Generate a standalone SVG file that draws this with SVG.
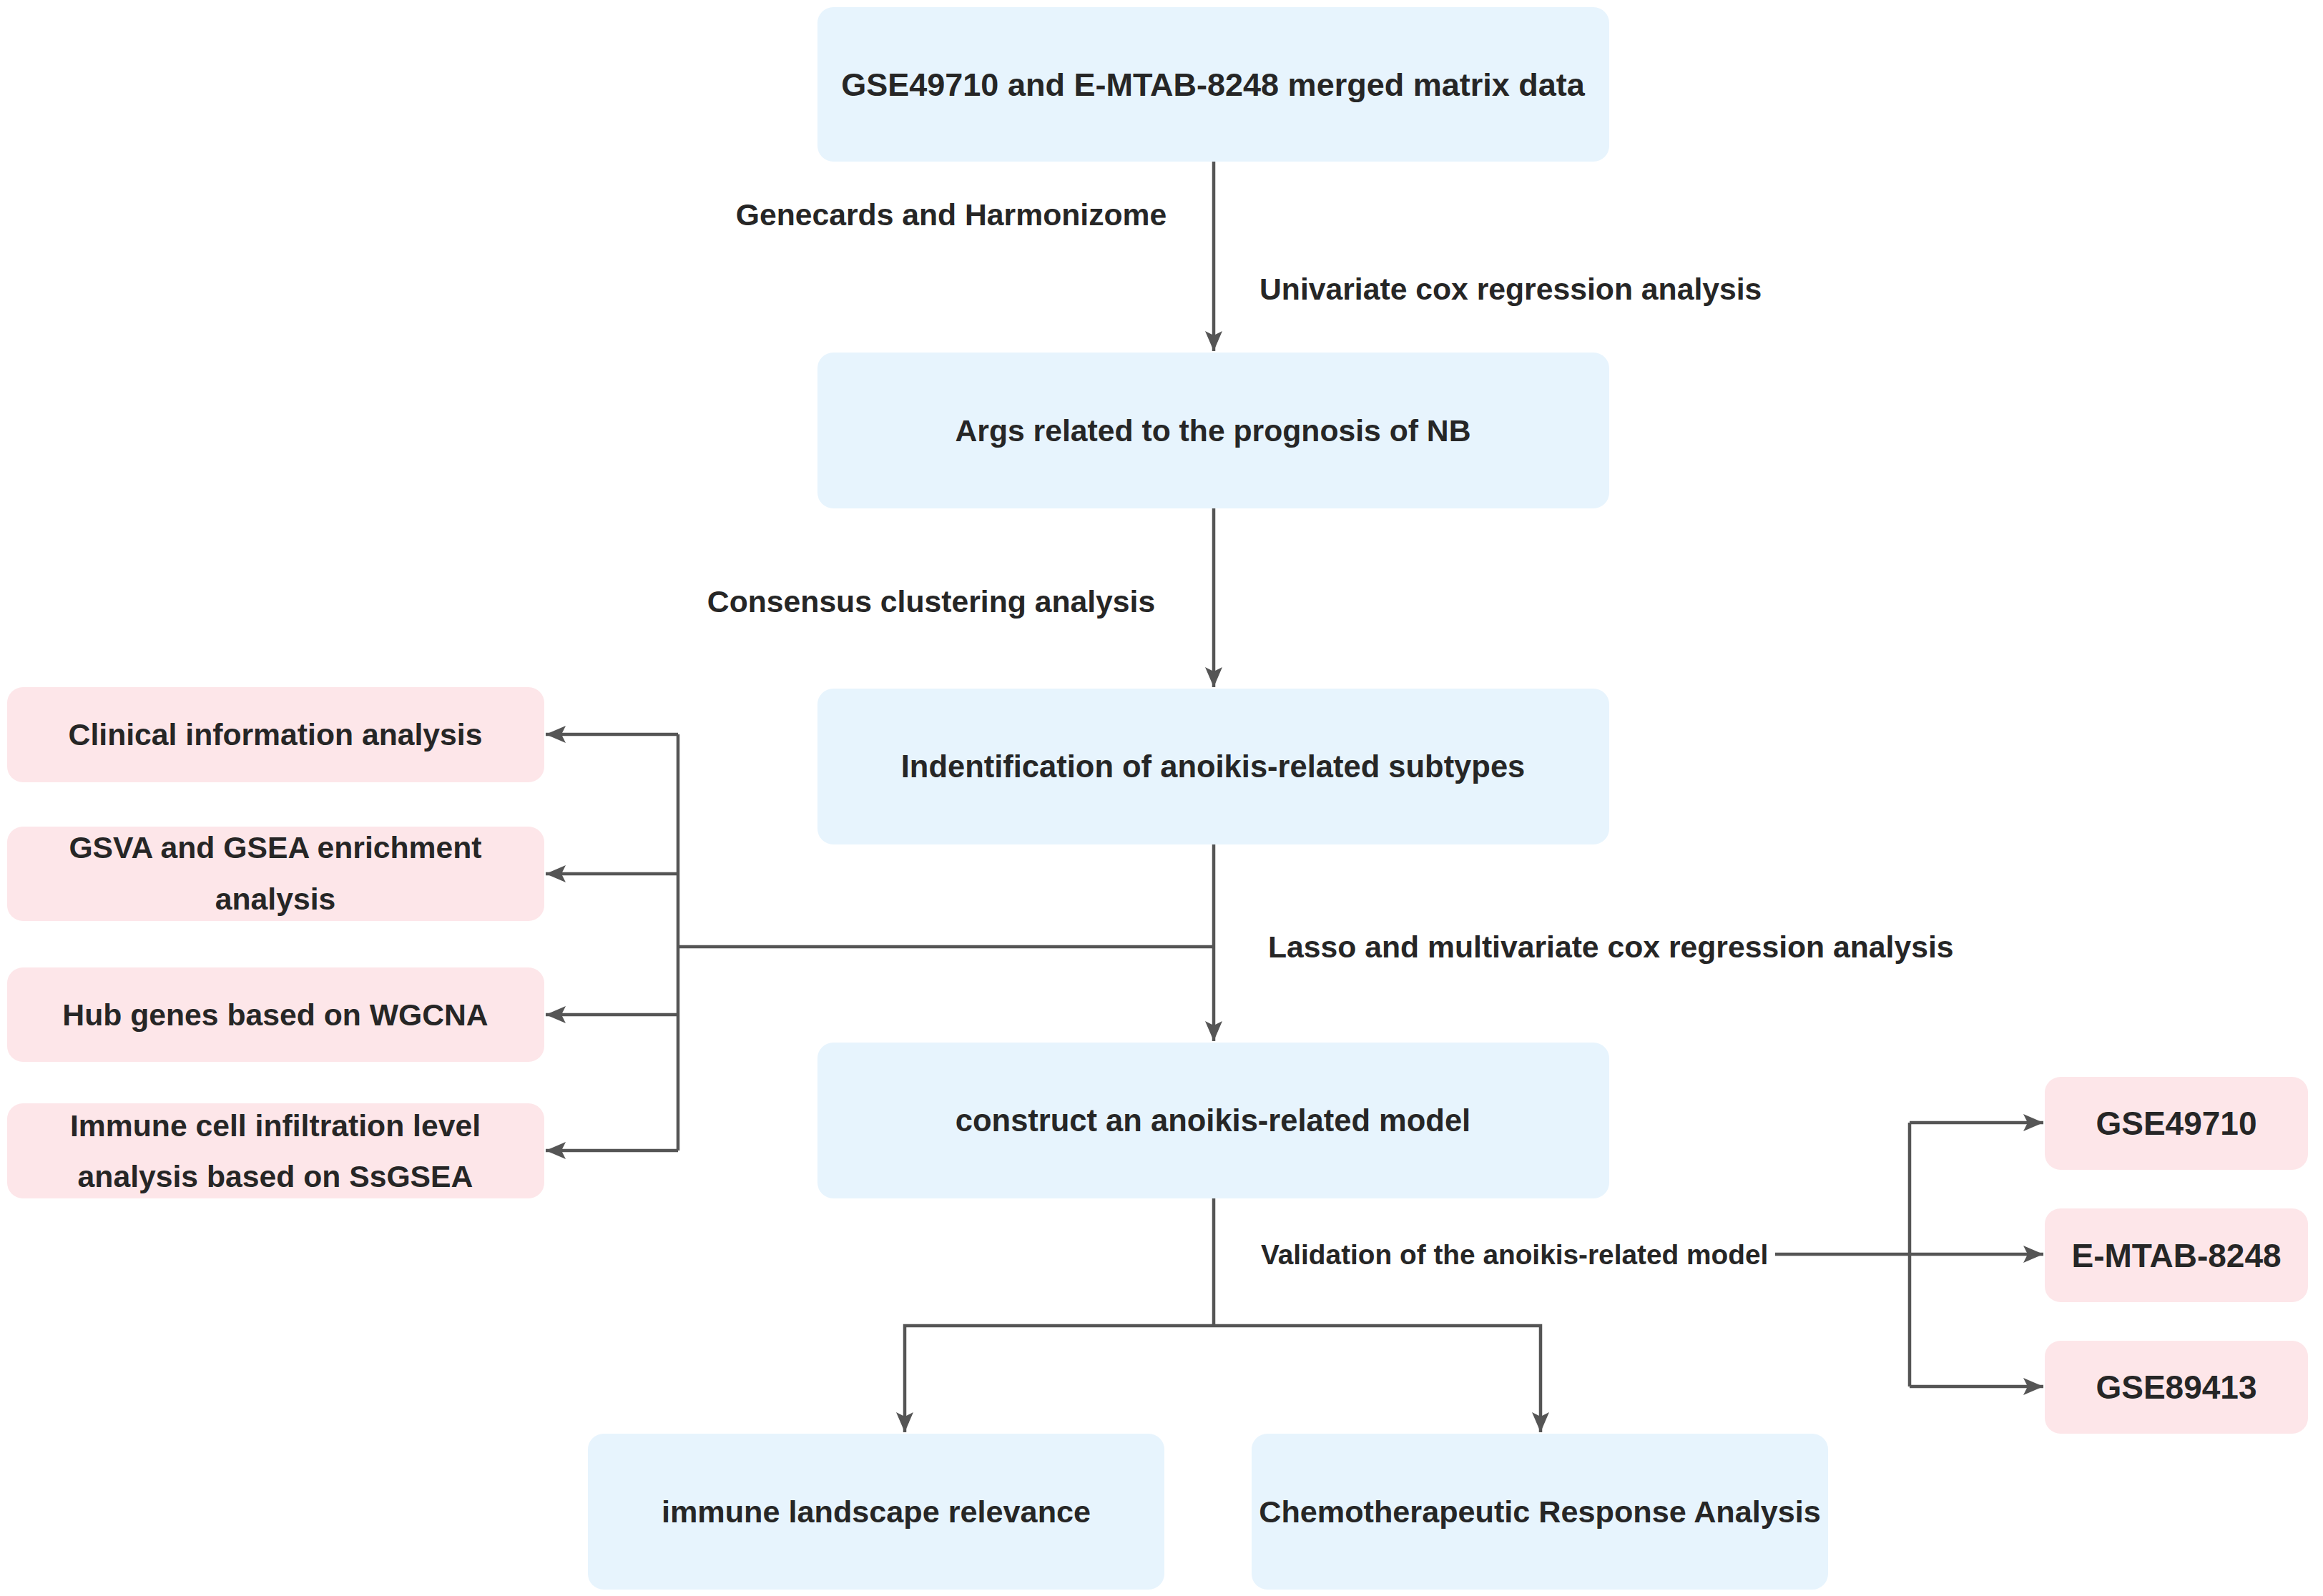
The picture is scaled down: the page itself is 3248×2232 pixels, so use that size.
<svg xmlns="http://www.w3.org/2000/svg" width="3248" height="2232" viewBox="0 0 3248 2232">
<defs>
<marker id="arr" markerUnits="userSpaceOnUse" markerWidth="30" markerHeight="24" refX="28" refY="12" orient="auto">
<path d="M0,0 L28,12 L0,24 L6,12 Z" fill="#555"/>
</marker>
<style>
.blue{fill:#E7F4FD}
.pink{fill:#FDE6E9}
.t{font-family:"Liberation Sans",Arial,sans-serif;font-weight:700;font-size:43.5px;fill:#262626;text-anchor:middle}
.l{font-family:"Liberation Sans",Arial,sans-serif;font-weight:700;font-size:42.7px;fill:#262626}
.lm{text-anchor:middle}
.top{font-size:45px}
.m{font-size:42.7px}
.b{font-size:43.2px}
.s{font-size:38.8px}
.r{font-size:46px}
.c{fill:none;stroke:#555;stroke-width:4.5}
</style>
</defs>
<rect width="3248" height="2232" fill="#fff"/>
<g id="n1"><rect class="blue" x="1143" y="10" width="1107" height="216" rx="22"/><text class="t top" x="1696" y="134">GSE49710 and E-MTAB-8248 merged matrix data</text></g>
<g id="n2"><rect class="blue" x="1143" y="493" width="1107" height="218" rx="22"/><text class="t m" x="1696" y="617">Args related to the prognosis of NB</text></g>
<g id="n3"><rect class="blue" x="1143" y="963" width="1107" height="218" rx="22"/><text class="t" x="1696" y="1087">Indentification of anoikis-related subtypes</text></g>
<g id="n4"><rect class="blue" x="1143" y="1458" width="1107" height="218" rx="22"/><text class="t" x="1696" y="1582">construct an anoikis-related model</text></g>
<g id="n5"><rect class="blue" x="822" y="2005" width="806" height="218" rx="22"/><text class="t b" x="1225" y="2129">immune landscape relevance</text></g>
<g id="n6"><rect class="blue" x="1750" y="2005" width="806" height="218" rx="22"/><text class="t b" x="2153" y="2129">Chemotherapeutic Response Analysis</text></g>
<g id="p1"><rect class="pink" x="10" y="961" width="751" height="133" rx="22"/><text class="t m" x="385" y="1042">Clinical information analysis</text></g>
<g id="p2"><rect class="pink" x="10" y="1156" width="751" height="132" rx="22"/><text class="t m" x="385" y="1200">GSVA and GSEA enrichment</text><text class="t m" x="385" y="1272">analysis</text></g>
<g id="p3"><rect class="pink" x="10" y="1353" width="751" height="132" rx="22"/><text class="t m" x="385" y="1434">Hub genes based on WGCNA</text></g>
<g id="p4"><rect class="pink" x="10" y="1543" width="751" height="133" rx="22"/><text class="t m" x="385" y="1589">Immune cell infiltration level</text><text class="t m" x="385" y="1660">analysis based on SsGSEA</text></g>
<g id="v1"><rect class="pink" x="2859" y="1506" width="368" height="130" rx="22"/><text class="t r" x="3043" y="1587">GSE49710</text></g>
<g id="v2"><rect class="pink" x="2859" y="1690" width="368" height="131" rx="22"/><text class="t r" x="3043" y="1772">E-MTAB-8248</text></g>
<g id="v3"><rect class="pink" x="2859" y="1875" width="368" height="130" rx="22"/><text class="t r" x="3043" y="1956">GSE89413</text></g>
<g id="connectors">
<path class="c" d="M1697,226 V491" marker-end="url(#arr)"/>
<path class="c" d="M1697,711 V961" marker-end="url(#arr)"/>
<path class="c" d="M1697,1181 V1456" marker-end="url(#arr)"/>
<path class="c" d="M1697,1324 H948"/>
<path class="c" d="M948,1027 V1609"/>
<path class="c" d="M948,1027 H763" marker-end="url(#arr)"/>
<path class="c" d="M948,1222 H763" marker-end="url(#arr)"/>
<path class="c" d="M948,1419 H763" marker-end="url(#arr)"/>
<path class="c" d="M948,1609 H763" marker-end="url(#arr)"/>
<path class="c" d="M1697,1676 V1854"/>
<path class="c" d="M1697,1854 H1265 V2003" marker-end="url(#arr)"/>
<path class="c" d="M1697,1854 H2154 V2003" marker-end="url(#arr)"/>
<path class="c" d="M2482,1754 H2857" marker-end="url(#arr)"/>
<path class="c" d="M2670,1570 V1939"/>
<path class="c" d="M2670,1570 H2857" marker-end="url(#arr)"/>
<path class="c" d="M2670,1939 H2857" marker-end="url(#arr)"/>
</g>
<g id="labels">
<text class="l lm" x="1330" y="315">Genecards and Harmonizome</text>
<text class="l" x="1761" y="419">Univariate cox regression analysis</text>
<text class="l lm" x="1302" y="856">Consensus clustering analysis</text>
<text class="l" x="1773" y="1339">Lasso and multivariate cox regression analysis</text>
<text class="l s" x="1763" y="1768">Validation of the anoikis-related model</text>
</g>
</svg>
